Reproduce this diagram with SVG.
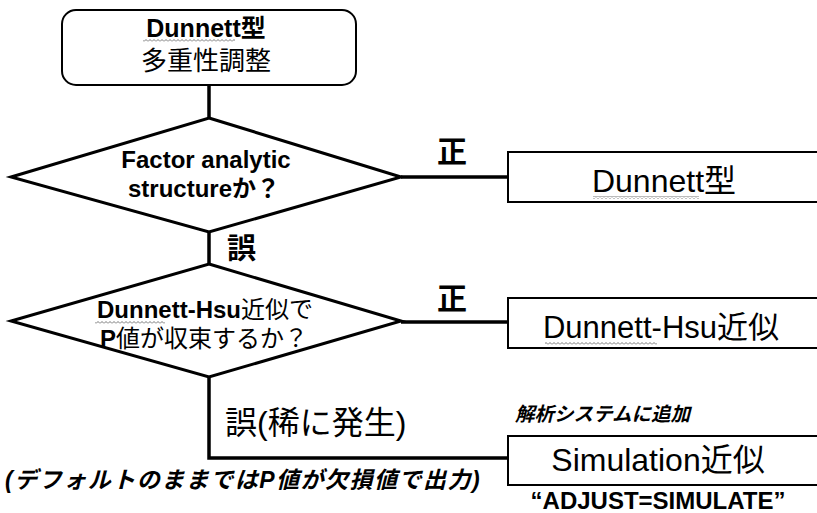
<svg xmlns="http://www.w3.org/2000/svg" width="817" height="513" viewBox="0 0 817 513">
  <style>
    text { font-family: "Liberation Sans", "Noto Sans CJK JP", sans-serif; fill: #000; }
    .b { font-weight: bold; }
    .mid { text-anchor: middle; }
    .it { font-style: italic; font-weight: bold; }
    .box { fill: #fff; stroke: #000; stroke-width: 2; }
    .dia { fill: #fff; stroke: #000; stroke-width: 3; stroke-linejoin: miter; }
    .edge { fill: none; stroke: #000; stroke-width: 3.5; }
  </style>
  <defs>
    <!-- spell-check style wavy underline -->
    <pattern id="squiggle" width="4" height="3" patternUnits="userSpaceOnUse">
      <path d="M0,2.5 L2,0.5 L4,2.5" fill="none" stroke="#555" stroke-width="0.8"/>
    </pattern>
  </defs>
  <rect width="817" height="513" fill="#fff"/>

  <!-- connectors -->
  <g id="connectors">
    <path class="edge" d="M209,85 V118"/>
    <path class="edge" d="M209,232 V264"/>
    <path class="edge" d="M401,177 H508"/>
    <path class="edge" d="M401,322 H508"/>
    <path class="edge" d="M209,377 V458 H508"/>
  </g>

  <!-- start -->
  <g id="start">
    <rect class="box" x="62" y="10" width="294" height="75" rx="14"/>
    <text class="b mid" x="206" y="37" font-size="25">Dunnett型</text>
    <rect x="143" y="39" width="92" height="3" fill="url(#squiggle)"/>
    <text class="mid" x="206" y="70" font-size="26">多重性調整</text>
  </g>

  <!-- decision 1 -->
  <g id="decision1">
    <polygon class="dia" points="209,118 401,177 209,232 11,177"/>
    <text class="b mid" x="206" y="168" font-size="24">Factor analytic</text>
    <text class="b mid" x="204" y="197" font-size="24">structureか？</text>
  </g>

  <!-- decision 2 -->
  <g id="decision2">
    <polygon class="dia" points="209,264 401,321 209,377 11,321"/>
    <text class="mid" x="205" y="318" font-size="24"><tspan class="b">Dunnett-Hsu</tspan>近似で</text>
    <rect x="95" y="321" width="70" height="3" fill="url(#squiggle)"/>
    <text class="mid" x="204" y="347" font-size="24"><tspan class="b">P</tspan>値が収束するか？</text>
  </g>

  <!-- result: Dunnett -->
  <g id="result-dunnett">
    <rect class="box" x="508" y="152" width="320" height="50"/>
    <text class="mid" x="664" y="192" font-size="32">Dunnett型</text>
    <rect x="593" y="196" width="106" height="3" fill="url(#squiggle)"/>
  </g>

  <!-- result: Dunnett-Hsu -->
  <g id="result-hsu">
    <rect class="box" x="508" y="298" width="320" height="50"/>
    <text class="mid" x="661" y="338" font-size="31">Dunnett-Hsu近似</text>
    <rect x="545" y="342" width="112" height="3" fill="url(#squiggle)"/>
  </g>

  <!-- result: Simulation -->
  <g id="result-simulation">
    <rect class="box" x="508" y="436" width="320" height="49"/>
    <text class="mid" x="658" y="471" font-size="32">Simulation近似</text>
  </g>

  <!-- branch labels -->
  <g id="labels">
    <text class="b" x="437" y="162" font-size="30">正</text>
    <text class="b" x="437" y="309" font-size="30">正</text>
    <text class="b" x="227" y="259" font-size="29">誤</text>
    <text x="225" y="434" font-size="32">誤(稀に発生)</text>
    <text class="it" x="5" y="488" font-size="23" letter-spacing="1.5">(デフォルトのままではP値が欠損値で出力)</text>
    <text class="it" x="515" y="421" font-size="19.5">解析システムに追加</text>
    <text class="b mid" x="658" y="509" font-size="24">“ADJUST=SIMULATE”</text>
  </g>
</svg>
